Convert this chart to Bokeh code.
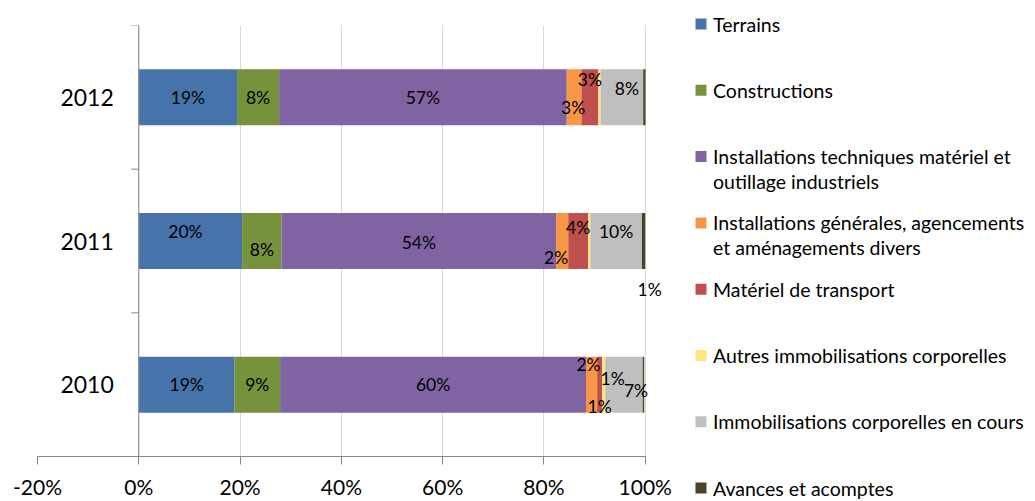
from bokeh.plotting import figure
from bokeh.models import Range1d, FactorRange, ColumnDataSource, FixedTicker, PrintfTickFormatter, Span
from bokeh.layouts import row
from bokeh.core.properties import value
from bokeh.embed import file_html
from bokeh.resources import INLINE

# ---------------- data ----------------
years = ["2010", "2011", "2012"]
series = [
    "Terrains",
    "Constructions",
    "Installations techniques matériel et\noutillage industriels",
    "Installations générales, agencements\net aménagements divers",
    "Matériel de transport",
    "Autres immobilisations corporelles",
    "Immobilisations corporelles en cours",
    "Avances et acomptes",
]
terrains = [18.9, 20.4, 19.4]
constructions = [9.0, 7.8, 8.3]
install_tech = [60.4, 54.2, 56.8]
install_gen = [2.2, 2.4, 2.9]
transport = [1.0, 3.9, 3.35]
autres = [0.6, 0.45, 0.45]
en_cours = [7.4, 10.2, 8.4]
avances = [0.3, 0.65, 0.45]
x_ticks = [-20, 0, 20, 40, 60, 80, 100]

# ---------------- style ----------------
colors = ["#4674AA", "#76923C", "#8064A2", "#F79646", "#C0504D", "#FFE57F", "#BFBFBF", "#4A4428"]
FONT = "Lato"
# manual label offsets (px) per series, per year [2010, 2011, 2012]
label_dx = [[0, -5, 0], [0, 0, 0], [0, 0, 0], [-3, -6, -1], [0, 0, 0], [9, 0, 0], [12, 0, 5], [0, 6, 0]]
label_dy = [[0, -10, 0], [0, 8, 0], [0, 1, 0], [-20, 16, 10], [22, -14, -18], [-6, 0, 0], [6, -10, -9], [0, 48, 0]]

values = [terrains, constructions, install_tech, install_gen, transport, autres, en_cours, avances]
keys = [f"s{i}" for i in range(len(series))]
data = {"year": years}
for k, v in zip(keys, values):
    data[k] = v
src = ColumnDataSource(data)

p = figure(width=690, height=501, x_range=Range1d(-20, 104),
           y_range=FactorRange(factors=years),
           toolbar_location=None, output_backend="svg",
           y_axis_location=None,
           min_border_left=37, min_border_right=25, min_border_top=25, min_border_bottom=42)
p.outline_line_color = None
p.ygrid.grid_line_color = None
p.xgrid.grid_line_color = "#D9D9D9"
p.xgrid.ticker = FixedTicker(ticks=x_ticks)

p.hbar_stack(keys, y="year", height=0.39, color=colors, source=src, line_color=None)

# axis
ax = p.xaxis[0]
ax.ticker = FixedTicker(ticks=x_ticks)
ax.bounds = (x_ticks[0], x_ticks[-1])
ax.formatter = PrintfTickFormatter(format="%d%%")
ax.axis_line_color = "#868686"
ax.major_tick_line_color = "#868686"
ax.minor_tick_line_color = None
ax.major_tick_out = 8
ax.major_tick_in = 0
ax.major_label_standoff = 9
ax.major_label_text_font = FONT
ax.major_label_text_font_size = "21px"
ax.major_label_text_color = "#000000"

# vertical axis at 0
p.add_layout(Span(location=0, dimension="height", line_color="#868686", line_width=1))
bounds = [(years[0], -0.5)] + [(y, 0.5) for y in years]
p.segment(x0=[-1.5] * len(bounds), x1=[0] * len(bounds), y0=bounds, y1=bounds,
          line_color="#868686", line_width=1)
p.text(x=[0] * len(years), y=years, text=years, x_offset=-25, text_align="right",
       text_baseline="middle", text_font=value(FONT), text_font_size="23px", text_color="#000000")

# data labels
lx, ly, lt, ldx, ldy = [], [], [], [], []
for j, yr in enumerate(years):
    cum = 0.0
    for i, v in enumerate(values):
        val = v[j]
        if round(val) > 0:
            lx.append(cum + val / 2)
            ly.append(yr)
            lt.append(f"{round(val)}%")
            ldx.append(label_dx[i][j])
            ldy.append(label_dy[i][j])
        cum += val
lsrc = ColumnDataSource(dict(x=lx, y=ly, t=lt, dx=ldx, dy=ldy))
p.text(x="x", y="y", text="t", x_offset="dx", y_offset="dy", source=lsrc,
       text_align="center", text_baseline="middle", text_font=value(FONT),
       text_font_size="17.5px", text_color="#000000")

# legend (separate panel)
leg = figure(width=345, height=501, x_range=Range1d(0, 345), y_range=Range1d(501, 0),
             toolbar_location=None, output_backend="svg",
             x_axis_location=None, y_axis_location=None, min_border=0)
leg.outline_line_color = None
leg.grid.grid_line_color = None
for fig in (p, leg):
    try:
        fig.frame_align = False
    except Exception as e:
        print("frame_align not available:", e)
item_y = [23.5 + 66.3 * i for i in range(len(series))]
leg.scatter(x=[10.5] * len(series), y=item_y, marker="square", size=11,
            color=colors, line_color=None)
tx, ty, tt = [], [], []
for i, name in enumerate(series):
    for k, line in enumerate(name.split("\n")):
        tx.append(22.5)
        ty.append(item_y[i] + 25 * k)
        tt.append(line)
leg.text(x=tx, y=ty, text=tt, text_align="left", text_baseline="middle",
         text_font=value(FONT), text_font_size="19.5px", text_color="#000000")

layout = row(p, leg)
open("out.html", "w").write(file_html(layout, INLINE))
